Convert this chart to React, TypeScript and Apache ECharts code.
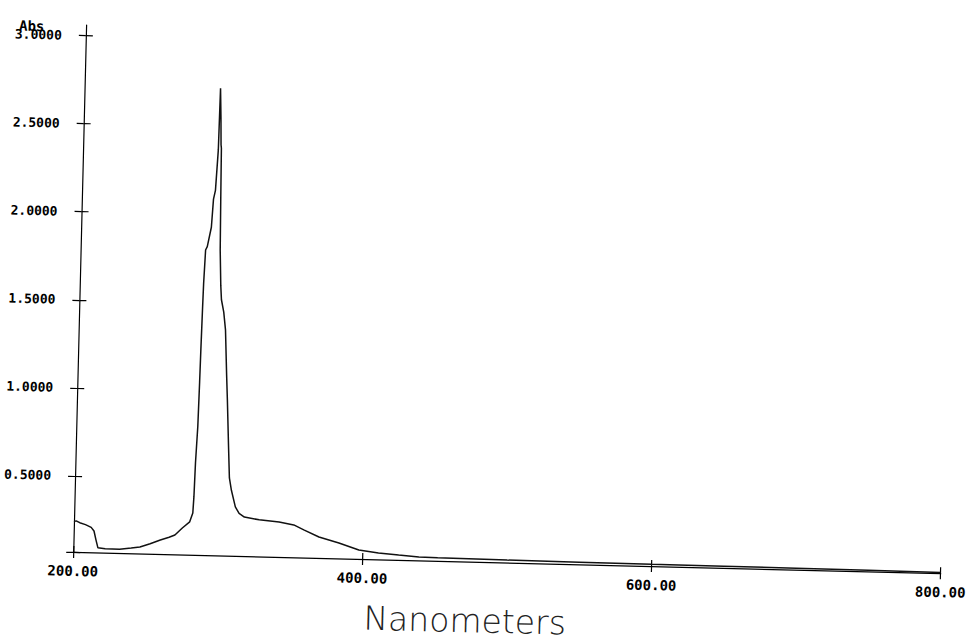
import React, { useEffect, useRef } from "react";
import * as echarts from "echarts";

const wavelengths = [
  200, 201.5, 204, 208, 212, 214, 215.5, 217, 222, 232, 240, 246, 253, 260, 266, 270, 275, 280,
  282, 282.5, 283, 284, 284.5, 284.8, 285.3, 285.6, 286.4, 287.5, 290, 291, 292.2, 293.5, 294,
  294.8, 295.3, 295.6, 296, 296.5, 297.5, 298.2, 300, 301.5, 303, 304, 305.5, 306.7, 308.3,
  311.3, 314, 317.7, 328, 341.8, 352, 359, 369.6, 383.5, 397.4, 411, 425, 439, 452, 500, 550,
  600, 650, 700, 750, 800,
];
const absorbance = [
  0.24, 0.245, 0.235, 0.225, 0.21, 0.19, 0.14, 0.095, 0.09, 0.09, 0.098, 0.105, 0.125, 0.148,
  0.165, 0.178, 0.219, 0.255, 0.306, 0.4, 0.59, 0.8, 1.05, 1.23, 1.48, 1.61, 1.8, 1.82, 1.93,
  2.09, 2.14, 2.37, 2.72, 2.55, 2.4, 2.38, 2.1, 1.8, 1.6, 1.52, 1.45, 1.35, 1.1, 0.95, 0.7, 0.51,
  0.44, 0.346, 0.31, 0.29, 0.276, 0.267, 0.252, 0.225, 0.187, 0.156, 0.119, 0.105, 0.096, 0.088,
  0.086, 0.082, 0.08, 0.078, 0.077, 0.076, 0.074, 0.072,
];
const yTickValues = [0.5, 1.0, 1.5, 2.0, 2.5, 3.0];
const yMin = 0.068;
const yMax = 3.06;
const xTicks = [200, 400, 600, 800];
const xTitle = "Nanometers";
const yTitle = "Abs";

export default function App() {
  const ref = useRef<HTMLDivElement>(null);
  useEffect(() => {
    if (!ref.current) return;
    const chart = echarts.init(ref.current, null, { renderer: "svg" });
    const labelFont = {
      fontFamily: "DejaVu Sans Mono",
      fontWeight: "bold",
      fontSize: 13,
      color: "#000",
    };
    const data = wavelengths.map((w, i) => [w, absorbance[i]]);
    const tickCustom = [yMin, ...yTickValues];
    chart.setOption({
      animation: false,
      backgroundColor: "#fff",
      grid: { left: 79, right: 24, top: 35, bottom: 81, containLabel: false },
      xAxis: [
        {
          type: "value",
          min: xTicks[0],
          max: xTicks[xTicks.length - 1],
          interval: 200,
          axisLine: { show: true, lineStyle: { color: "#000", width: 1.2 } },
          axisTick: { show: true, length: 6, lineStyle: { color: "#000", width: 1.2 } },
          axisLabel: {
            ...labelFont,
            fontSize: 14,
            margin: 12,
            formatter: (v: number) => v.toFixed(2),
          },
          splitLine: { show: false },
        },
        {
          type: "value",
          min: xTicks[0],
          max: xTicks[xTicks.length - 1],
          interval: 200,
          position: "bottom",
          axisLine: { show: false },
          axisTick: { show: true, inside: true, length: 6, lineStyle: { color: "#000", width: 1.2 } },
          axisLabel: { show: false },
          splitLine: { show: false },
        },
      ],
      yAxis: [
        {
          type: "value",
          min: yMin,
          max: yMax,
          axisLine: { show: true, lineStyle: { color: "#000", width: 1.2 } },
          axisTick: {
            show: true,
            length: 7,
            customValues: tickCustom,
            lineStyle: { color: "#000", width: 1.2 },
          },
          axisLabel: {
            ...labelFont,
            margin: 24,
            customValues: yTickValues,
            formatter: (v: number) => v.toFixed(4),
          },
          splitLine: { show: false },
        },
        {
          type: "value",
          min: yMin,
          max: yMax,
          position: "left",
          axisLine: { show: false },
          axisTick: {
            show: true,
            inside: true,
            length: 7,
            customValues: tickCustom,
            lineStyle: { color: "#000", width: 1.2 },
          },
          axisLabel: { show: false },
          splitLine: { show: false },
        },
      ],
      graphic: [
        {
          type: "text",
          left: 12,
          top: 30,
          style: {
            text: yTitle,
            fontFamily: "DejaVu Sans Mono",
            fontWeight: "bold",
            fontSize: 14,
            fill: "#000",
          },
        },
        {
          type: "text",
          x: 472,
          y: 621,
          style: {
            text: xTitle,
            fontFamily: "DejaVu Sans",
            fontWeight: 200,
            fontSize: 33,
            fill: "#222",
            textAlign: "center",
            textVerticalAlign: "middle",
          },
        },
      ],
      series: [
        {
          type: "line",
          xAxisIndex: 0,
          yAxisIndex: 0,
          data,
          showSymbol: false,
          lineStyle: { color: "#111", width: 1.5 },
          clip: true,
        },
      ],
    });
    return () => chart.dispose();
  }, []);
  return (
    <div
      style={{
        position: "absolute",
        left: 0,
        top: 0,
        width: 975,
        height: 643,
        background: "#fff",
        transform: "rotate(1.4deg)",
        transformOrigin: "487px 321px",
      }}
    >
      <div ref={ref} style={{ width: 975, height: 643 }} />
    </div>
  );
}
